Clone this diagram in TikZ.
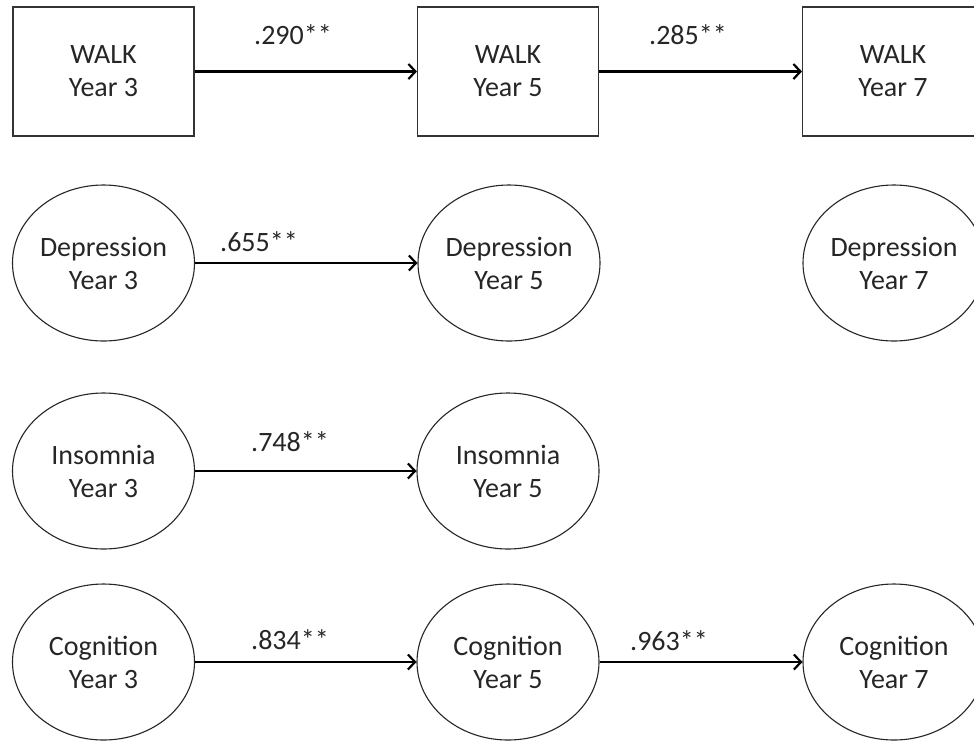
\documentclass[tikz,border=0pt]{standalone}
\usepackage{fontspec}
\setmainfont{Carlito}
\usetikzlibrary{arrows.meta,shapes.geometric}
\begin{document}
\begin{tikzpicture}[x=1pt,y=-1pt,
  txt/.style={font=\fontsize{28}{33}\selectfont,text=black!85},
  boxnode/.style={txt,draw=black!80,line width=1.1pt,rectangle,minimum width=181pt,minimum height=129pt,inner sep=0pt,align=center},
  ellnode/.style={txt,draw=black!85,line width=1.1pt,ellipse,minimum width=182pt,minimum height=156pt,inner sep=0pt,align=center},
  conn/.style={draw=black,line width=2.6pt,-{Straight Barb[length=7pt,width=15pt,line width=2.2pt]}},
  lbl/.style={txt,inner sep=0pt}
]
\useasboundingbox (0,0) rectangle (974,740);
\clip (0,0) rectangle (974,740);
\fill[white] (0,0) rectangle (974,740);
% row 1: WALK
\node[boxnode] (w3) at (103.5,71.5) {WALK\\Year 3};
\node[boxnode] (w5) at (508,71.5) {WALK\\Year 5};
\node[boxnode] (w7) at (893,71.5) {WALK\\Year 7};
% row 2: Depression
\node[ellnode] (d3) at (103.5,263) {Depression\\Year 3};
\node[ellnode] (d5) at (509,263) {Depression\\Year 5};
\node[ellnode] (d7) at (894,263) {Depression\\Year 7};
% row 3: Insomnia
\node[ellnode] (i3) at (103.5,471) {Insomnia\\Year 3};
\node[ellnode] (i5) at (508,471) {Insomnia\\Year 5};
% row 4: Cognition
\node[ellnode] (c3) at (103.5,662) {Cognition\\Year 3};
\node[ellnode] (c5) at (508,662) {Cognition\\Year 5};
\node[ellnode] (c7) at (894,662) {Cognition\\Year 7};
% connectors
\draw[conn] (w3.east) -- (w5.west);
\draw[conn] (w5.east) -- (w7.west);
\draw[conn] (d3.east) -- (d5.west);
\draw[conn] (i3.east) -- (i5.west);
\draw[conn] (c3.east) -- (c5.west);
\draw[conn] (c5.east) -- (c7.west);
% labels
\node[lbl] (l1) at (293,35) {.290**};
\node[lbl] (l2) at (688,35) {.285**};
\node[lbl] (l3) at (259,242) {.655**};
\node[lbl] (l4) at (290,442) {.748**};
\node[lbl] (l5) at (290,640) {.834**};
\node[lbl] (l6) at (669,641) {.963**};
\end{tikzpicture}
\end{document}
